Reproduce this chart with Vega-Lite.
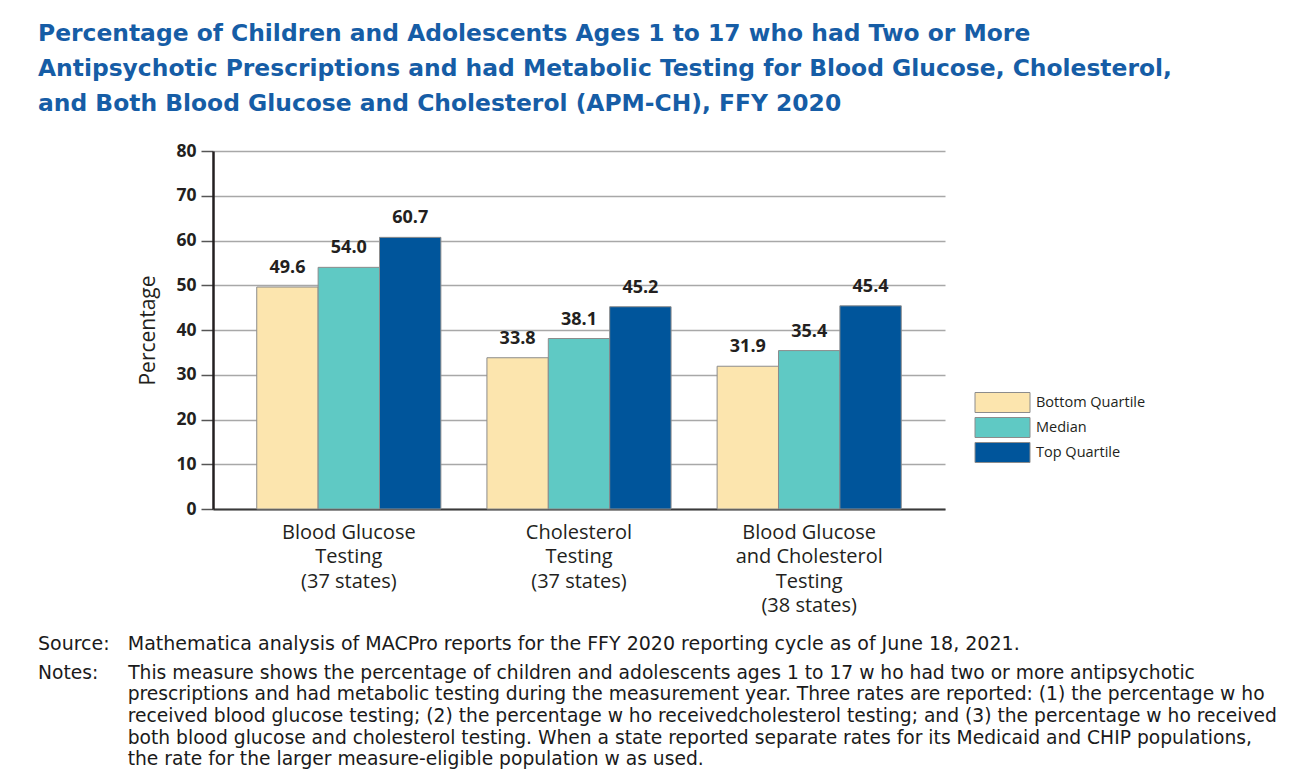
{
  "$schema": "https://vega.github.io/schema/vega-lite/v6.json",
  "background": "white",
  "padding": {"left": 38, "top": 21, "right": 10, "bottom": 0},
  "title": {
    "text": ["Percentage of Children and Adolescents Ages 1 to 17 who had Two or More", "Antipsychotic Prescriptions and had Metabolic Testing for Blood Glucose, Cholesterol,", "and Both Blood Glucose and Cholesterol (APM-CH), FFY 2020"],
    "anchor": "start",
    "frame": "group",
    "dx": -175,
    "font": "DejaVu Sans",
    "fontSize": 23.4,
    "fontWeight": "bold",
    "color": "#165DA6",
    "lineHeight": 35,
    "offset": 26
  },
  "config": {
    "view": {"stroke": null},
    "font": "Open Sans"
  },
  "vconcat": [
    {
      "width": 732,
      "height": 358,
      "title": {
        "text": "Source:\u00a0\u00a0\u00a0Mathematica analysis of MACPro reports for the FFY 2020 reporting cycle as of June 18, 2021.",
        "subtitle": [
          "Notes:\u2002\u2002\u2002\u200aThis measure shows the percentage of children and adolescents ages 1 to 17 w ho had two or more antipsychotic",
          "\u200b\u2002\u2002\u2002\u2002\u2002\u2002\u2002\u2002\u2002\u2009\u200aprescriptions and had metabolic testing during the measurement year. Three rates are reported: (1) the percentage w ho",
          "\u200b\u2002\u2002\u2002\u2002\u2002\u2002\u2002\u2002\u2002\u2009\u200areceived blood glucose testing; (2) the percentage w ho receivedcholesterol testing; and (3) the percentage w ho received",
          "\u200b\u2002\u2002\u2002\u2002\u2002\u2002\u2002\u2002\u2002\u2009\u200aboth blood glucose and cholesterol testing. When a state reported separate rates for its Medicaid and CHIP populations,",
          "\u200b\u2002\u2002\u2002\u2002\u2002\u2002\u2002\u2002\u2002\u2009\u200athe rate for the larger measure-eligible population w as used."
        ],
        "orient": "bottom",
        "anchor": "start",
        "frame": "group",
        "dx": -175,
        "offset": 19,
        "font": "DejaVu Sans",
        "fontSize": 19,
        "fontWeight": "normal",
        "color": "#1a1a1a",
        "subtitleFont": "DejaVu Sans",
        "subtitleFontSize": 18.7,
        "subtitleColor": "#1a1a1a",
        "subtitleLineHeight": 21.7,
        "subtitlePadding": 10
      },
      "data": {
        "values": [
          {"test": "Blood Glucose|Testing|(37 states)", "group": "Bottom Quartile", "value": 49.6},
          {"test": "Blood Glucose|Testing|(37 states)", "group": "Median", "value": 54.0},
          {"test": "Blood Glucose|Testing|(37 states)", "group": "Top Quartile", "value": 60.7},
          {"test": "Cholesterol|Testing|(37 states)", "group": "Bottom Quartile", "value": 33.8},
          {"test": "Cholesterol|Testing|(37 states)", "group": "Median", "value": 38.1},
          {"test": "Cholesterol|Testing|(37 states)", "group": "Top Quartile", "value": 45.2},
          {"test": "Blood Glucose|and Cholesterol|Testing|(38 states)", "group": "Bottom Quartile", "value": 31.9},
          {"test": "Blood Glucose|and Cholesterol|Testing|(38 states)", "group": "Median", "value": 35.4},
          {"test": "Blood Glucose|and Cholesterol|Testing|(38 states)", "group": "Top Quartile", "value": 45.4}
        ]
      },
      "encoding": {
        "x": {
          "field": "test",
          "type": "nominal",
          "sort": ["Blood Glucose|Testing|(37 states)", "Cholesterol|Testing|(37 states)", "Blood Glucose|and Cholesterol|Testing|(38 states)"],
          "scale": {"paddingInner": 0.2, "paddingOuter": 0.19},
          "axis": {
            "title": null,
            "labelExpr": "split(datum.label, '|')",
            "labelAngle": 0,
            "labelFontSize": 20,
            "labelLineHeight": 24.5,
            "labelColor": "#231f20",
            "labelPadding": 13,
            "ticks": false,
            "domainColor": "#3a3a3a",
            "domainWidth": 2
          }
        },
        "xOffset": {
          "field": "group",
          "type": "nominal",
          "sort": ["Bottom Quartile", "Median", "Top Quartile"],
          "scale": {"paddingInner": 0, "paddingOuter": 0}
        },
        "y": {
          "field": "value",
          "type": "quantitative",
          "scale": {"domain": [0, 80]},
          "axis": {
            "title": "Percentage",
            "titleFontSize": 21,
            "titleFontWeight": "normal",
            "titleColor": "#231f20",
            "titlePadding": 17,
            "values": [0, 10, 20, 30, 40, 50, 60, 70, 80],
            "labelFontSize": 17.5,
            "labelFontWeight": "bold",
            "labelColor": "#231f20",
            "labelPadding": 5,
            "tickSize": 12,
            "tickColor": "#555555",
            "tickWidth": 1.5,
            "gridColor": "#a8a8a8",
            "gridWidth": 1.5,
            "domainColor": "#231f20",
            "domainWidth": 2.5
          }
        }
      },
      "layer": [
        {
          "mark": {"type": "bar", "stroke": "#8c8c8c", "strokeWidth": 1},
          "encoding": {
            "color": {
              "field": "group",
              "type": "nominal",
              "scale": {"domain": ["Bottom Quartile", "Median", "Top Quartile"], "range": ["#FCE5AE", "#5FC9C4", "#00559B"]},
              "legend": {
                "title": null,
                "orient": "none",
                "legendX": 779,
                "legendY": 241,
                "symbolType": "M-2.75,-1H2.75V1H-2.75Z",
                "symbolSize": 400,
                "symbolStrokeColor": "#8c8c8c",
                "symbolStrokeWidth": 1,
                "symbolOpacity": 1,
                "labelFontSize": 14.5,
                "labelColor": "#231f20",
                "labelOffset": 23,
                "rowPadding": 0
              }
            }
          }
        },
        {
          "mark": {"type": "text", "baseline": "bottom", "dy": -10, "fontSize": 18, "fontWeight": "bold", "color": "#231f20"},
          "encoding": {
            "text": {"field": "value", "type": "quantitative", "format": ".1f"}
          }
        }
      ]
    }
  ]
}
